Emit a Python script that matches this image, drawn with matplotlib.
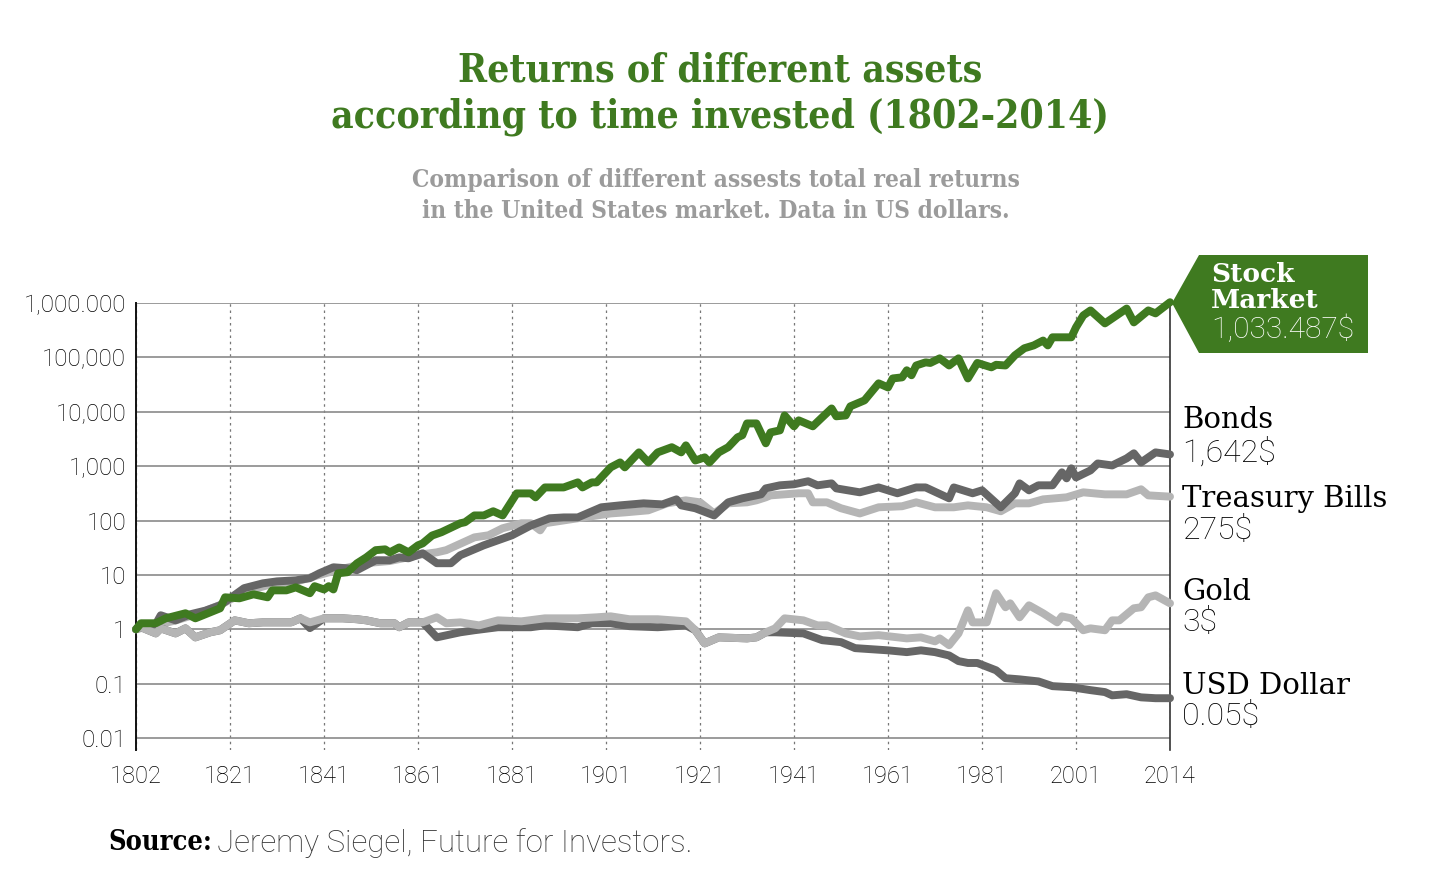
import numpy as np
import matplotlib
matplotlib.use("Agg")
import matplotlib.pyplot as plt
from matplotlib.patches import Polygon
from matplotlib.ticker import NullLocator

# ---------------- data ----------------
tick_years = [1802, 1821, 1841, 1861, 1881, 1901, 1921, 1941, 1961, 1981, 2001, 2014]
y_ticks = [0.01, 0.1, 1, 10, 100, 1000, 10000, 100000, 1000000]
y_tick_labels = ["0.01", "0.1", "1", "10", "100", "1,000", "10,000", "100,000", "1,000.000"]

stock_years = [1802, 1803, 1806, 1808, 1812, 1814, 1817, 1819, 1820, 1823, 1826, 1829, 1830, 1833,
               1835, 1838, 1839, 1841, 1842, 1843, 1844, 1846, 1848, 1850, 1852, 1854, 1855, 1857,
               1859, 1861, 1862, 1864, 1866, 1870, 1871, 1873, 1875, 1877, 1879, 1882, 1885, 1886,
               1888, 1892, 1895, 1896, 1898, 1899, 1902, 1904, 1905, 1908, 1910, 1912, 1915, 1917,
               1918, 1920, 1922, 1923, 1925, 1927, 1929, 1930, 1931, 1933, 1935, 1936, 1938, 1939,
               1941, 1942, 1945, 1947, 1949, 1950, 1952, 1953, 1956, 1959, 1961, 1962, 1964, 1965,
               1966, 1967, 1969, 1970, 1972, 1974, 1976, 1978, 1980, 1983, 1984, 1986, 1988, 1990,
               1992, 1994, 1995, 1996, 2000, 2001, 2002, 2003, 2005, 2008, 2009, 2011, 2012, 2014]
stock_values = [1.0, 1.29, 1.29, 1.59, 1.97, 1.59, 2.05, 2.43, 3.87, 3.71, 4.4, 3.87, 5.2, 5.2,
                5.9, 4.6, 6.2, 5.4, 6.2, 5.4, 10.7, 11.2, 16.3, 21, 28.5, 29.5, 26, 32,
                26, 35, 38, 53, 61, 89, 93, 124, 124, 148, 124, 315, 315, 267,
                406, 406, 503, 406, 503, 503, 950, 1170, 950, 1790, 1170, 1790, 2230, 1790,
                2410, 1270, 1450, 1170, 1790, 2230, 3390, 3700, 6100, 6100, 2630, 4170, 4550, 8560,
                5400, 6950, 5400, 7900, 11500, 8250, 8560, 12600, 16200, 33300, 28000, 41000, 42900, 57900,
                46900, 71000, 81000, 79000, 96000, 71000, 96000, 41000, 79000, 65600, 73000, 71000, 109000, 147000,
                166000, 204000, 166000, 234000, 234000, 357000, 590000, 730000, 422000, 790000, 440000, 730000, 645000, 1033487]

bonds_years = [1802, 1803, 1806, 1807, 1810, 1813, 1816, 1819, 1821, 1824, 1828, 1831, 1835, 1838,
               1840, 1843, 1846, 1848, 1852, 1855, 1857, 1859, 1862, 1865, 1868, 1870, 1875, 1881,
               1885, 1889, 1892, 1895, 1900, 1904, 1909, 1913, 1916, 1917, 1920, 1924, 1927, 1930,
               1934, 1935, 1938, 1941, 1944, 1946, 1949, 1950, 1955, 1959, 1963, 1967, 1969, 1974,
               1975, 1979, 1981, 1985, 1988, 1989, 1991, 1993, 1996, 1998, 1999, 2000, 2001, 2003,
               2004, 2006, 2008, 2009, 2010, 2012, 2014]
bonds_values = [1.0, 1.24, 1.24, 1.81, 1.46, 1.89, 2.2, 2.76, 3.7, 5.7, 7.0, 7.6, 7.95, 8.7,
                10.7, 13.8, 13.2, 12.2, 18.6, 18.6, 21, 20.2, 25, 16.4, 16.4, 23, 35, 53.5,
                81, 110, 114, 114, 175, 190, 207, 198, 245, 190, 168, 124, 216, 256,
                303, 390, 444, 464, 527, 444, 482, 390, 330, 406, 317, 406, 406, 256,
                406, 317, 359, 175, 317, 482, 359, 444, 444, 769, 597, 911, 620, 835,
                1120, 1030, 1390, 1720, 1170, 1790, 1642]

bills_years = [1802, 1806, 1810, 1815, 1819, 1821, 1825, 1830, 1835, 1840, 1845, 1850, 1855, 1860,
               1862, 1865, 1867, 1873, 1876, 1879, 1883, 1885, 1887, 1888, 1895, 1902, 1905, 1910,
               1914, 1918, 1921, 1924, 1927, 1931, 1933, 1935, 1936, 1942, 1944, 1945, 1948, 1951,
               1955, 1959, 1964, 1967, 1971, 1975, 1978, 1982, 1985, 1988, 1991, 1994, 1999, 2002,
               2005, 2008, 2010, 2011, 2014]
bills_values = [1.0, 1.2, 1.45, 2.0, 2.8, 3.5, 5.2, 6.8, 7.5, 10, 13, 16.5, 18, 22,
                24, 26, 28.5, 49, 53.5, 72, 89, 89, 66, 89, 110, 135, 141, 154,
                207, 235, 216, 135, 207, 216, 235, 267, 290, 317, 317, 216, 216, 168,
                135, 175, 183, 216, 175, 175, 190, 175, 148, 207, 207, 245, 267, 330,
                303, 303, 375, 290, 275]

gold_years = [1802, 1803, 1806, 1807, 1810, 1812, 1814, 1817, 1819, 1822, 1825, 1828, 1831, 1834,
              1836, 1838, 1841, 1845, 1848, 1850, 1853, 1856, 1857, 1859, 1862, 1865, 1867, 1870,
              1874, 1878, 1883, 1888, 1895, 1899, 1902, 1906, 1912, 1918, 1920, 1922, 1925, 1931,
              1933, 1935, 1937, 1939, 1943, 1946, 1948, 1952, 1955, 1959, 1965, 1968, 1971, 1972,
              1974, 1976, 1978, 1979, 1982, 1984, 1986, 1987, 1989, 1991, 1994, 1997, 1998, 2000,
              2002, 2003, 2005, 2006, 2007, 2009, 2010, 2011, 2012, 2014]
gold_values = [1.0, 1.09, 0.84, 1.04, 0.84, 1.04, 0.71, 0.88, 0.96, 1.46, 1.29, 1.34, 1.34, 1.34,
               1.59, 1.34, 1.59, 1.59, 1.53, 1.46, 1.29, 1.29, 1.09, 1.34, 1.34, 1.66, 1.29, 1.34,
               1.18, 1.46, 1.4, 1.59, 1.59, 1.66, 1.73, 1.53, 1.53, 1.4, 0.96, 0.55, 0.71, 0.68,
               0.71, 0.88, 1.04, 1.59, 1.46, 1.18, 1.18, 0.84, 0.74, 0.78, 0.68, 0.71, 0.60, 0.68,
               0.51, 0.84, 2.23, 1.34, 1.34, 4.6, 2.54, 3.0, 1.66, 2.76, 1.97, 1.34, 1.73, 1.59,
               0.96, 1.04, 0.96, 1.46, 1.46, 2.43, 2.54, 3.87, 4.2, 3.0]

dollar_years = [1802, 1803, 1806, 1807, 1810, 1812, 1814, 1817, 1819, 1822, 1825, 1828, 1831, 1834,
                1836, 1838, 1841, 1845, 1848, 1850, 1853, 1856, 1857, 1859, 1862, 1865, 1870, 1873,
                1878, 1885, 1888, 1895, 1898, 1902, 1906, 1912, 1918, 1920, 1922, 1925, 1931, 1933,
                1935, 1937, 1943, 1947, 1951, 1954, 1961, 1965, 1968, 1971, 1974, 1976, 1978, 1980,
                1984, 1986, 1989, 1993, 1996, 2000, 2003, 2005, 2006, 2008, 2010, 2012, 2014]
dollar_values = [1.0, 1.09, 0.84, 1.04, 0.84, 1.04, 0.71, 0.88, 0.96, 1.46, 1.29, 1.34, 1.34, 1.34,
                 1.59, 1.05, 1.59, 1.59, 1.53, 1.46, 1.29, 1.29, 1.09, 1.34, 1.34, 0.71, 0.88, 0.96,
                 1.09, 1.09, 1.18, 1.09, 1.29, 1.29, 1.14, 1.09, 1.18, 0.96, 0.55, 0.71, 0.68, 0.71,
                 0.88, 0.88, 0.84, 0.63, 0.58, 0.45, 0.41, 0.38, 0.41, 0.38, 0.33, 0.26, 0.24, 0.24,
                 0.176, 0.126, 0.12, 0.11, 0.09, 0.086, 0.076, 0.07, 0.061, 0.064, 0.056, 0.054, 0.054]

# ---------------- style ----------------
GREEN = "#3f7a20"
DARK = "#666666"
LIGHT = "#b5b5b5"
SERIF = ["DejaVu Serif"]
LIGHTSANS = ["Roboto", "DejaVu Sans"]

W, H = 1440, 885
fig = plt.figure(figsize=(W / 100, H / 100), dpi=100)
fig.patch.set_facecolor("white")


def fx(px):
    return px / W


def fy(py):
    return 1 - py / H


ax = fig.add_axes([fx(136), fy(750), (1170 - 136) / W, (750 - 303) / H])

tick_idx = np.arange(len(tick_years), dtype=float)


def fwd(x):
    return np.interp(x, tick_years, tick_idx)


def inv(x):
    return np.interp(x, tick_idx, tick_years)


ax.set_xscale("function", functions=(fwd, inv))
ax.set_yscale("log")
ax.set_xlim(1802, 2014)
ax.set_ylim(10 ** -2.22, 1e6)

ax.set_xticks(tick_years)
ax.set_xticklabels([str(t) for t in tick_years], fontsize=17, family=LIGHTSANS,
                   fontweight="light", color="#000000")
ax.set_yticks(y_ticks)
ax.set_yticklabels(y_tick_labels, fontsize=17.5, family=LIGHTSANS, fontweight="light",
                   color="#000000")
ax.yaxis.set_minor_locator(NullLocator())
ax.xaxis.set_minor_locator(NullLocator())
ax.tick_params(axis="both", length=0)
ax.tick_params(axis="x", pad=11)
ax.tick_params(axis="y", pad=7)

ax.yaxis.grid(True, color="#8a8a8a", lw=1.2)
ax.xaxis.grid(True, color="#777777", lw=0.9, ls=(0, (2, 3)))
ax.set_axisbelow(True)

for s in ["top", "bottom"]:
    ax.spines[s].set_visible(False)
ax.spines["left"].set_color("#111111")
ax.spines["left"].set_linewidth(1.4)
ax.spines["right"].set_color("#333333")
ax.spines["right"].set_linewidth(1.2)

lkw = dict(lw=5.7, solid_capstyle="round", solid_joinstyle="round", clip_on=False)
ax.plot(bills_years, bills_values, color=LIGHT, zorder=3, **lkw)
ax.plot(bonds_years, bonds_values, color=DARK, zorder=4, **lkw)
ax.plot(dollar_years, dollar_values, color=DARK, zorder=5, **lkw)
ax.plot(gold_years, gold_values, color=LIGHT, zorder=6, **lkw)
ax.plot(stock_years, stock_values, color=GREEN, zorder=7, **lkw)

# ---------------- titles ----------------
fig.text(0.5, fy(70), "Returns of different assets", ha="center", va="center",
         fontsize=28, fontweight="bold", family=SERIF, fontstretch="condensed", color=GREEN)
fig.text(0.5, fy(117), "according to time invested (1802-2014)", ha="center", va="center",
         fontsize=28, fontweight="bold", family=SERIF, fontstretch="condensed", color=GREEN)
fig.text(0.497, fy(180), "Comparison of different assests total real returns", ha="center",
         va="center", fontsize=17.6, fontweight="bold", family=SERIF, fontstretch="condensed",
         color="#9b9b9b")
fig.text(0.497, fy(211), "in the United States market. Data in US dollars.", ha="center",
         va="center", fontsize=17.6, fontweight="bold", family=SERIF, fontstretch="condensed",
         color="#9b9b9b")

# ---------------- stock market tag ----------------
tag = Polygon([(fx(1172), fy(303)), (fx(1199), fy(255)), (fx(1368), fy(255)),
               (fx(1368), fy(353)), (fx(1199), fy(353))], closed=True,
              transform=fig.transFigure, facecolor=GREEN, edgecolor="none", zorder=10)
fig.patches.append(tag)
fig.text(fx(1211), fy(275), "Stock", ha="left", va="center", fontsize=19, fontweight="bold",
         family=SERIF, color="white", zorder=11)
fig.text(fx(1211), fy(301), "Market", ha="left", va="center", fontsize=19, fontweight="bold",
         family=SERIF, color="white", zorder=11)
fig.text(fx(1211), fy(330), "1,033.487$", ha="left", va="center", fontsize=21.5,
         fontweight="light", family=LIGHTSANS, color="white", zorder=11)

# ---------------- end labels ----------------
labels = [("Bonds", "1,642$", 420, 452),
          ("Treasury Bills", "275$", 499, 530),
          ("Gold", "3$", 592, 623),
          ("USD Dollar", "0.05$", 686, 716)]
for name, val, yn, yv in labels:
    fig.text(fx(1182), fy(yn), name, ha="left", va="center", fontsize=21, family=SERIF,
             color="#000000")
    fig.text(fx(1182), fy(yv), val, ha="left", va="center", fontsize=23, fontweight="light",
             family=LIGHTSANS, color="#000000")

# ---------------- source ----------------
src = fig.text(fx(108), fy(843), "Source:", ha="left", va="center", fontsize=19.5,
               fontweight="bold", family=SERIF, fontstretch="condensed", color="#000000")
ax.annotate("Jeremy Siegel, Future for Investors.", xy=(1, 0.5), xycoords=src,
            xytext=(4, 0), textcoords="offset points", ha="left", va="center",
            fontsize=22.5, fontweight="light", family=LIGHTSANS, color="#333333",
            annotation_clip=False)

fig.savefig("out.png", dpi=100, facecolor="white")
